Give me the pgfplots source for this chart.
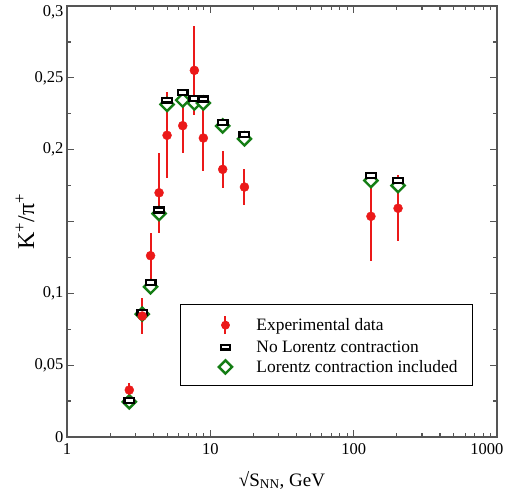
\documentclass[border=0pt]{standalone}
\usepackage{fontspec}
\setmainfont{Liberation Serif}
\usepackage{pgfplots}
\pgfplotsset{compat=1.18}
\definecolor{expred}{RGB}{235,25,25}
\definecolor{lgreen}{RGB}{20,125,20}
\definecolor{axgray}{RGB}{85,85,85}
\pgfdeclareplotmark{rectm}{\pgfpathrectangle{\pgfqpoint{-4.8pt}{-2.4pt}}{\pgfqpoint{9.6pt}{4.8pt}}\pgfusepathqfillstroke}
\pgfdeclareplotmark{rhomb}{\pgfpathmoveto{\pgfqpoint{0pt}{6.6pt}}\pgfpathlineto{\pgfqpoint{6.6pt}{0pt}}\pgfpathlineto{\pgfqpoint{0pt}{-6.6pt}}\pgfpathlineto{\pgfqpoint{-6.6pt}{0pt}}\pgfpathclose\pgfusepathqfillstroke}
\pgfplotsset{
  markleg/.style={legend image code/.code={\path[draw=none,fill=none] (0,0) -- (46pt,0); \draw[##1, only marks] plot coordinates {(31pt,0pt)};}},
  expleg/.style={legend image code/.code={\path[draw=none,fill=none] (0,0) -- (46pt,0); \draw[expred, line width=2pt] (31pt,-9pt) -- (31pt,9pt); \fill[expred] (31pt,0pt) circle (4pt);}},
}
\begin{document}
\begin{tikzpicture}
\path[use as bounding box] (-67pt,-56pt) rectangle (442pt,437pt);
\begin{axis}[
  at={(0,0)}, anchor=south west,
  scale only axis, width=430pt, height=431pt,
  xmode=log, log basis x=10,
  xmin=1, xmax=1000, ymin=0, ymax=0.3,
  xtick={1,10,100,1000}, xticklabels={1,10,100,\hspace*{-20pt}1000},
  minor xtick={2,3,4,5,6,7,8,9,20,30,40,50,60,70,80,90,200,300,400,500,600,700,800,900},
  ytick={0,0.05,0.1,0.15,0.2,0.25,0.3},
  yticklabels={0,{0,05},{0,1},{},{0,2},{0,25},{\raisebox{-11pt}[0pt][0pt]{0,3}}},
  minor ytick={0.025,0.075,0.125,0.175,0.225,0.275},
  tick align=inside, major tick length=7pt, minor tick length=4pt,
  axis line style={axgray, line width=1.6pt},
  every tick/.style={axgray, line width=1.2pt},
  ticklabel style={font=\fontsize{16.5}{18}\selectfont},
  xticklabel style={yshift=-3pt},
  every axis x label/.style={at={(axis description cs:0.5,0)}, anchor=base, yshift=-49pt, font=\fontsize{19}{22}\selectfont},
  every axis y label/.style={at={(axis description cs:0,0.5)}, rotate=90, anchor=center, yshift=42pt, font=\fontsize{24}{26}\selectfont},
  xlabel={√S\textsubscript{NN}, GeV},
  ylabel={K\textsuperscript{+}/π\textsuperscript{+}},
  reverse legend,
  legend cell align=left,
  legend style={at={(0.263,0.118)}, anchor=south west, draw=black, line width=0.8pt,
    font=\fontsize{17.4}{20}\selectfont, inner xsep=14pt, inner ysep=11pt,
    nodes={inner sep=1pt}, row sep=4.5pt, column sep=15pt},
  clip=false,
]
\addplot[only marks, mark=rhomb, mark options={draw=lgreen, fill=white, line width=2.4pt}, markleg]
table[x=x,y=y] {
x y
2.72 0.0245
3.35 0.0855
3.83 0.1045
4.39 0.1555
4.99 0.2315
6.42 0.2345
7.74 0.2325
8.94 0.2325
12.2 0.2165
17.3 0.2075
132 0.1785
204 0.1750
};
\addlegendentry{Lorentz contraction included}
\addplot[only marks, mark=rectm, mark options={draw=black, fill=white, line width=2.3pt}, markleg]
table[x=x,y=y] {
x y
2.72 0.0255
3.35 0.0865
3.83 0.1074
4.39 0.1580
4.99 0.2345
6.42 0.2398
7.74 0.2355
8.94 0.2353
12.2 0.2190
17.3 0.2105
132 0.1819
204 0.1784
};
\addlegendentry{No Lorentz contraction}
\addplot[only marks, mark=*, mark size=4.5pt, color=expred, mark options={fill=expred, draw=expred}, expleg,
  error bars/.cd, y dir=both, y explicit, error mark=none, error bar style={line width=2pt, expred}]
table[x=x,y=y,y error=e] {
x y e
2.72 0.0327 0.005
3.35 0.0842 0.0125
3.83 0.1262 0.016
4.39 0.1700 0.028
4.99 0.2100 0.030
6.42 0.2167 0.019
7.74 0.2552 0.031
8.94 0.2081 0.023
12.2 0.1863 0.013
17.3 0.1740 0.0128
132 0.1536 0.031
204 0.1592 0.023
};
\addlegendentry{Experimental data}
\end{axis}
\end{tikzpicture}
\end{document}
